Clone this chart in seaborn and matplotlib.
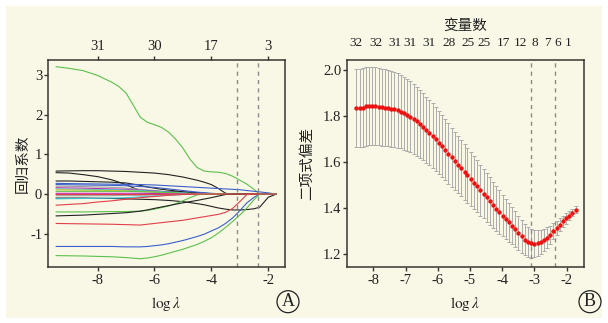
import matplotlib
matplotlib.use("Agg")
import matplotlib.pyplot as plt
from matplotlib.patches import Ellipse, Rectangle
import pandas as pd
import seaborn as sns

# ---------------- panel A: lasso coefficient paths ----------------
path_loglam = [-9.46, -9.0, -8.5, -8.0, -7.5, -7.25, -7.0, -6.75, -6.5, -6.25,
               -6.0, -5.75, -5.5, -5.25, -5.0, -4.75, -4.5, -4.25, -4.0, -3.75,
               -3.5, -3.25, -3.0, -2.75, -2.5, -2.3, -2.0, -1.72]
path_colors = ["#5cc04c", "#222222", "#222222", "#222222", "#3a5fcd",
               "#3a5fcd", "#a0a0a0", "#c02ab0", "#3cc8d8", "#d8c030",
               "#5cc04c", "#c02ab0", "#a0a0a0", "#222222", "#3cc8d8",
               "#e0404a", "#5cc04c", "#222222", "#e0404a", "#3a5fcd",
               "#5cc04c", "#e0404a"]
# each path: coefficients until the variable leaves the model (then zero)
coef_paths = [
    [3.21, 3.17, 3.11, 2.99, 2.82, 2.71, 2.55, 2.25, 1.94, 1.81, 1.75, 1.68, 1.56, 1.38,
     1.16, 0.88, 0.67, 0.58, 0.56, 0.55, 0.52, 0.45, 0.35, 0.25, 0.12, 0.0],
    [0.58, 0.585, 0.59, 0.59, 0.58, 0.575, 0.57, 0.56, 0.55, 0.54, 0.53, 0.51, 0.49, 0.46,
     0.43, 0.39, 0.35, 0.30, 0.24, 0.14, 0.02],
    [0.54, 0.53, 0.49, 0.44, 0.36, 0.30, 0.24, 0.16, 0.09, 0.08, 0.07, 0.065, 0.06, 0.055,
     0.05, 0.04, 0.03, 0.02, 0.01, 0.005],
    [0.33, 0.33, 0.32, 0.31, 0.30, 0.29, 0.28, 0.25, 0.22, 0.18, 0.15, 0.12, 0.10, 0.08,
     0.06, 0.045, 0.03, 0.02, 0.01, 0.005],
    [0.27, 0.265, 0.26, 0.255, 0.25, 0.248, 0.245, 0.243, 0.24, 0.235, 0.23, 0.22, 0.21, 0.20,
     0.19, 0.18, 0.17, 0.16, 0.15, 0.14, 0.13, 0.12, 0.11, 0.09, 0.07, 0.055, 0.03, 0.0],
    [0.24, 0.235, 0.23, 0.225, 0.22, 0.215, 0.21, 0.20, 0.19, 0.18, 0.17, 0.15, 0.13, 0.11,
     0.09, 0.07, 0.05, 0.035, 0.02, 0.01],
    [0.20, 0.195, 0.19, 0.18, 0.17, 0.16, 0.15, 0.135, 0.12, 0.105, 0.09, 0.07, 0.05, 0.035,
     0.02, 0.01],
    [0.16, 0.155, 0.15, 0.14, 0.13, 0.125, 0.12, 0.11, 0.10, 0.09, 0.08, 0.065, 0.05, 0.035,
     0.02, 0.01],
    [0.13, 0.125, 0.12, 0.115, 0.11, 0.105, 0.10, 0.095, 0.09, 0.08, 0.07, 0.06, 0.05, 0.04,
     0.03, 0.02, 0.01, 0.005],
    [0.11, 0.105, 0.10, 0.095, 0.09, 0.085, 0.08, 0.075, 0.07, 0.06, 0.05, 0.04, 0.03, 0.02,
     0.01, 0.005],
    [0.07, 0.07, 0.07, 0.07, 0.07, 0.07, 0.07, 0.065, 0.06, 0.055, 0.05, 0.045, 0.04, 0.03,
     0.02, 0.015, 0.01, 0.005],
    [0.02, 0.02, 0.02, 0.02, 0.02, 0.02, 0.02, 0.02, 0.02, 0.018, 0.015, 0.012, 0.01, 0.007,
     0.005, 0.002],
    [-0.04, -0.04, -0.04, -0.04, -0.04, -0.035, -0.03, -0.03, -0.03, -0.025, -0.02, -0.015,
     -0.01, -0.005],
    [-0.10, -0.10, -0.10, -0.105, -0.11, -0.115, -0.12, -0.125, -0.13, -0.135, -0.14, -0.15,
     -0.16, -0.175, -0.19, -0.215, -0.24, -0.27, -0.31, -0.35, -0.38, -0.40, -0.40, -0.39,
     -0.37, -0.33, -0.08, 0.0],
    [-0.12, -0.115, -0.11, -0.105, -0.10, -0.095, -0.09, -0.08, -0.07, -0.06, -0.05, -0.04,
     -0.03, -0.02, -0.01, -0.005],
    [-0.28, -0.26, -0.24, -0.20, -0.17, -0.15, -0.13, -0.11, -0.09, -0.075, -0.06, -0.045,
     -0.03, -0.02, -0.01, -0.005],
    [-0.45, -0.45, -0.45, -0.445, -0.44, -0.44, -0.44, -0.435, -0.43, -0.41, -0.38, -0.34,
     -0.30, -0.24, -0.17, -0.09, -0.02],
    [-0.55, -0.54, -0.53, -0.51, -0.49, -0.48, -0.47, -0.45, -0.43, -0.40, -0.36, -0.325,
     -0.29, -0.255, -0.22, -0.19, -0.16, -0.125, -0.09, -0.05, -0.01],
    [-0.74, -0.745, -0.75, -0.755, -0.76, -0.765, -0.77, -0.775, -0.78, -0.76, -0.74, -0.72,
     -0.70, -0.68, -0.66, -0.63, -0.60, -0.57, -0.54, -0.51, -0.46, -0.36, -0.19, -0.01],
    [-1.32, -1.32, -1.32, -1.32, -1.32, -1.325, -1.33, -1.33, -1.33, -1.32, -1.30, -1.28,
     -1.25, -1.21, -1.17, -1.12, -1.07, -1.01, -0.93, -0.85, -0.74, -0.60, -0.42, -0.22,
     -0.08, 0.0],
    [-1.55, -1.555, -1.56, -1.57, -1.58, -1.59, -1.60, -1.615, -1.63, -1.61, -1.58, -1.54,
     -1.49, -1.44, -1.39, -1.33, -1.27, -1.19, -1.10, -0.98, -0.84, -0.69, -0.53, -0.35,
     -0.14, 0.0],
    [-0.01, -0.01, -0.01, -0.01, -0.01, -0.01, -0.01, -0.01, -0.01, -0.01, -0.01, -0.007,
     -0.005, -0.002],
]
a_top_pos = [-8, -6, -4, -2]
a_top_labels = ["31", "30", "17", "3"]

# ---------------- panel B: cross-validated binomial deviance ----------------
cv_loglam = [-8.53, -8.43, -8.33, -8.23, -8.13, -8.04, -7.94, -7.84, -7.74, -7.64,
             -7.54, -7.44, -7.35, -7.25, -7.15, -7.05, -6.95, -6.85, -6.75, -6.66,
             -6.56, -6.46, -6.36, -6.26, -6.16, -6.06, -5.96, -5.87, -5.77, -5.67,
             -5.57, -5.47, -5.37, -5.27, -5.17, -5.08, -4.98, -4.88, -4.78, -4.68,
             -4.58, -4.48, -4.38, -4.29, -4.19, -4.09, -3.99, -3.89, -3.79, -3.69,
             -3.60, -3.50, -3.40, -3.30, -3.20, -3.10, -3.00, -2.90, -2.81, -2.71,
             -2.61, -2.51, -2.41, -2.31, -2.21, -2.11, -2.02, -1.92, -1.82, -1.72]
cv_mean = [1.836, 1.836, 1.838, 1.843, 1.846, 1.846, 1.844, 1.842, 1.840, 1.838,
           1.836, 1.833, 1.830, 1.826, 1.820, 1.813, 1.806, 1.798, 1.789, 1.779,
           1.767, 1.755, 1.742, 1.729, 1.715, 1.700, 1.685, 1.670, 1.654, 1.638,
           1.622, 1.606, 1.590, 1.574, 1.558, 1.543, 1.527, 1.511, 1.495, 1.479,
           1.463, 1.447, 1.431, 1.413, 1.398, 1.383, 1.368, 1.354, 1.339, 1.323,
           1.308, 1.292, 1.277, 1.263, 1.252, 1.247, 1.246, 1.248, 1.253, 1.262,
           1.272, 1.284, 1.300, 1.314, 1.328, 1.342, 1.355, 1.368, 1.381, 1.394]
cv_se = [0.170, 0.170, 0.171, 0.171, 0.171, 0.171, 0.170, 0.169, 0.168, 0.167,
         0.166, 0.165, 0.163, 0.162, 0.160, 0.158, 0.156, 0.154, 0.152, 0.150,
         0.148, 0.146, 0.144, 0.142, 0.141, 0.139, 0.137, 0.135, 0.133, 0.131,
         0.129, 0.127, 0.125, 0.123, 0.121, 0.119, 0.117, 0.115, 0.113, 0.111,
         0.108, 0.106, 0.103, 0.100, 0.097, 0.094, 0.091, 0.088, 0.085, 0.081,
         0.078, 0.075, 0.072, 0.069, 0.066, 0.063, 0.060, 0.056, 0.052, 0.048,
         0.044, 0.040, 0.036, 0.032, 0.029, 0.026, 0.023, 0.020, 0.017, 0.015]
b_top_pos = [-8.53, -7.93, -7.34, -6.87, -6.28, -5.66, -5.07, -4.57, -3.95,
             -3.42, -2.98, -2.61, -2.27, -1.96]
b_top_labels = ["32", "32", "31", "31", "31", "28", "25", "25", "17", "12",
                "8", "7", "6", "1"]

lambda_min = -3.11
lambda_1se = -2.37

BG = "#f9f8e6"
SPINE = "#3a3430"

sns.set_theme(style="ticks")
plt.rcParams["font.family"] = ["Liberation Serif", "Noto Sans CJK SC"]
plt.rcParams["mathtext.fontset"] = "stix"
plt.rcParams["axes.unicode_minus"] = False

fig = plt.figure(figsize=(6.08, 3.23), dpi=100)
fig.patch.set_facecolor("white")
fig.patches.append(Rectangle((6 / 608, 5 / 323), 596 / 608, 312 / 323,
                             transform=fig.transFigure, facecolor=BG,
                             edgecolor="none", zorder=-10))

axA = fig.add_axes([0.0785, 0.1743, 0.3903, 0.640])
axB = fig.add_axes([0.5702, 0.1743, 0.3903, 0.639])

# panel A lines
rows = []
for k, vals in enumerate(coef_paths):
    full = vals + [0.0] * (len(path_loglam) - len(vals))
    for x, y in zip(path_loglam, full):
        rows.append({"loglam": x, "coef": y, "var": f"v{k}"})
df_paths = pd.DataFrame(rows)
palette = {f"v{k}": c for k, c in enumerate(path_colors)}
sns.lineplot(data=df_paths, x="loglam", y="coef", hue="var", palette=palette,
             estimator=None, sort=False, legend=False, linewidth=0.8, ax=axA)
for v in (lambda_min, lambda_1se):
    axA.axvline(v, color="#8a8a8a", lw=1.0, ls=(0, (3, 3)))
axA.set_xlim(-9.75, -1.41)
axA.set_ylim(-1.83, 3.38)
axA.set_xticks([-8, -6, -4, -2])
axA.set_yticks([-1, 0, 1, 2, 3])
axA.set_ylabel("回归系数", fontsize=10.5)
axA.yaxis.set_label_coords(-0.077, 0.5)
secA = axA.secondary_xaxis("top")
secA.set_xticks(a_top_pos)
secA.set_xticklabels(a_top_labels)
secA.tick_params(length=3, pad=2, labelsize=10.5, width=1, color=SPINE,
                 labelcolor="#222222")

# panel B
axB.errorbar(cv_loglam, cv_mean, yerr=cv_se, fmt="none", ecolor="#ababab",
             elinewidth=0.7, capsize=1.4, capthick=0.7, zorder=2)
sns.scatterplot(x=cv_loglam, y=cv_mean, color="#ee1111", s=10, linewidth=0,
                ax=axB, zorder=3)
for v in (lambda_min, lambda_1se):
    axB.axvline(v, color="#8a8a8a", lw=1.0, ls=(0, (3, 3)))
axB.set_xlim(-8.83, -1.46)
axB.set_ylim(1.145, 2.044)
axB.set_xticks([-8, -7, -6, -5, -4, -3, -2])
axB.set_yticks([1.2, 1.4, 1.6, 1.8, 2.0])
axB.set_yticklabels([f"{t:.1f}" for t in [1.2, 1.4, 1.6, 1.8, 2.0]])
axB.set_ylabel("二项式偏差", fontsize=10.5)
axB.yaxis.set_label_coords(-0.136, 0.5)
secB = axB.secondary_xaxis("top")
secB.set_xticks(b_top_pos)
secB.set_xticklabels(b_top_labels)
secB.tick_params(length=0, pad=8, labelsize=9.5, labelcolor="#222222")
secB.set_xlabel("变量数", fontsize=10.5, labelpad=5, color="#222222")

for ax in (axA, axB):
    ax.set_facecolor(BG)
    for s in ax.spines.values():
        s.set_color(SPINE)
        s.set_linewidth(1.1)
    ax.tick_params(axis="both", length=3, width=1, color=SPINE, labelsize=10.5,
                   labelcolor="#222222")
    ax.tick_params(axis="y", pad=1)
    ax.tick_params(axis="x", pad=2)
    ax.set_xlabel(r"$\mathrm{log}\,\lambda$", fontsize=11, color="#222222")
    ax.xaxis.set_label_coords(0.5, -0.135)
    ax.yaxis.label.set_color("#222222")

for s in secA.spines.values():
    s.set_visible(False)
for s in secB.spines.values():
    s.set_visible(False)

# circled panel letters
for cx, letter in ((288, "A"), (590, "B")):
    fig.patches.append(Ellipse((cx / 608, 1 - 301.7 / 323), 22 / 608, 22 / 323,
                               transform=fig.transFigure, facecolor="none",
                               edgecolor="#222222", lw=0.9))
    fig.text(cx / 608, 1 - 301.7 / 323, letter, ha="center", va="center",
             fontsize=13, color="#222222")

fig.savefig("out.png", dpi=100, facecolor=fig.get_facecolor())
